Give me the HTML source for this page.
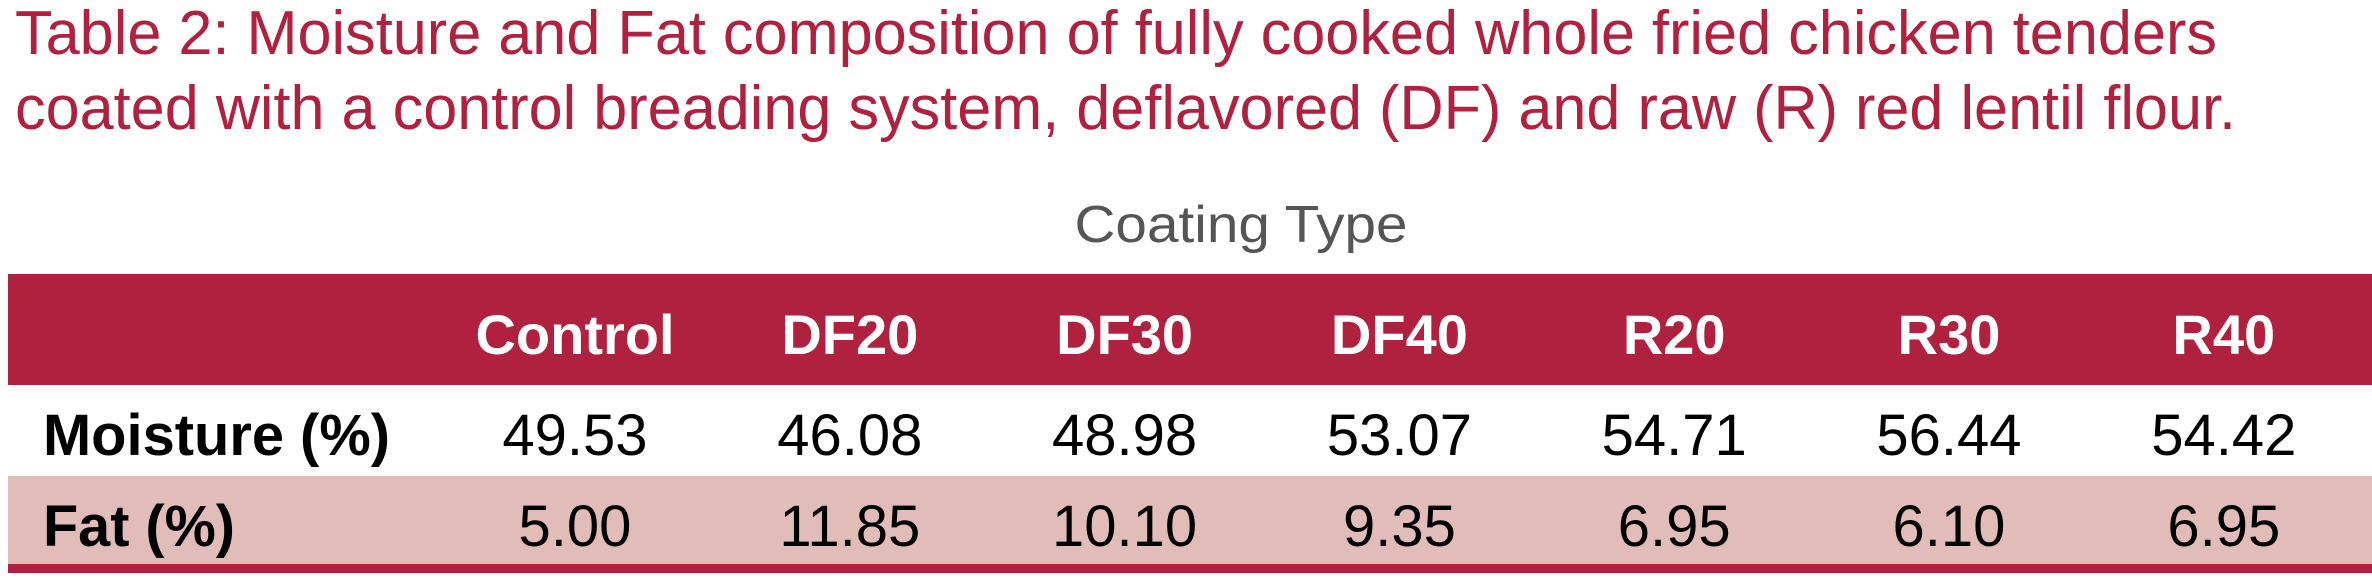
<!DOCTYPE html>
<html><head><meta charset="utf-8"><style>
html,body{margin:0;padding:0;background:#fff;}
svg{display:block;font-family:"Liberation Sans",sans-serif;}
</style></head><body>
<svg width="2372" height="581" viewBox="0 0 2372 581">
<text x="15" y="54" font-size="62" fill="#AF213E" textLength="2202" lengthAdjust="spacingAndGlyphs">Table 2: Moisture and Fat composition of fully cooked whole fried chicken tenders</text>
<text x="15" y="129" font-size="62" fill="#AF213E" textLength="2221" lengthAdjust="spacingAndGlyphs">coated with a control breading system, deflavored (DF) and raw (R) red lentil flour.</text>
<text x="1241" y="242" font-size="52" fill="#555" text-anchor="middle" textLength="333" lengthAdjust="spacingAndGlyphs">Coating Type</text>
<rect x="8" y="274" width="2364" height="111" fill="#AF213E"/>
<rect x="8" y="476" width="2364" height="88" fill="#E2BCB8"/>
<rect x="8" y="564" width="2364" height="9" fill="#AF213E"/>
<text x="43" y="455" font-size="58" font-weight="bold" fill="#000" textLength="347" lengthAdjust="spacingAndGlyphs">Moisture (%)</text>
<text x="43" y="546" font-size="58" font-weight="bold" fill="#000" textLength="192" lengthAdjust="spacingAndGlyphs">Fat (%)</text>
<g id="cells"></g>
</svg>
<script>
const categories = ["Control","DF20","DF30","DF40","R20","R30","R40"];
const moisture = ["49.53","46.08","48.98","53.07","54.71","56.44","54.42"];
const fat = ["5.00","11.85","10.10","9.35","6.95","6.10","6.95"];
const NS = "http://www.w3.org/2000/svg";
const g = document.getElementById("cells");
function colX(i){ return 575 + i * 274.8; }
function txt(s, x, y, size, weight, fill){
  const t = document.createElementNS(NS, "text");
  t.setAttribute("x", x); t.setAttribute("y", y);
  t.setAttribute("font-size", size); t.setAttribute("font-weight", weight);
  t.setAttribute("fill", fill); t.setAttribute("text-anchor", "middle");
  t.textContent = s; g.appendChild(t); return t;
}
categories.forEach((c, i) => {
  const h = txt(c, colX(i), 354, 56, "bold", "#fff");
  
  
  const m = txt(moisture[i], colX(i), 455, 58, "normal", "#000");
  
  
  const f = txt(fat[i], colX(i), 546, 58, "normal", "#000");
  
  
});
</script>
</body></html>
